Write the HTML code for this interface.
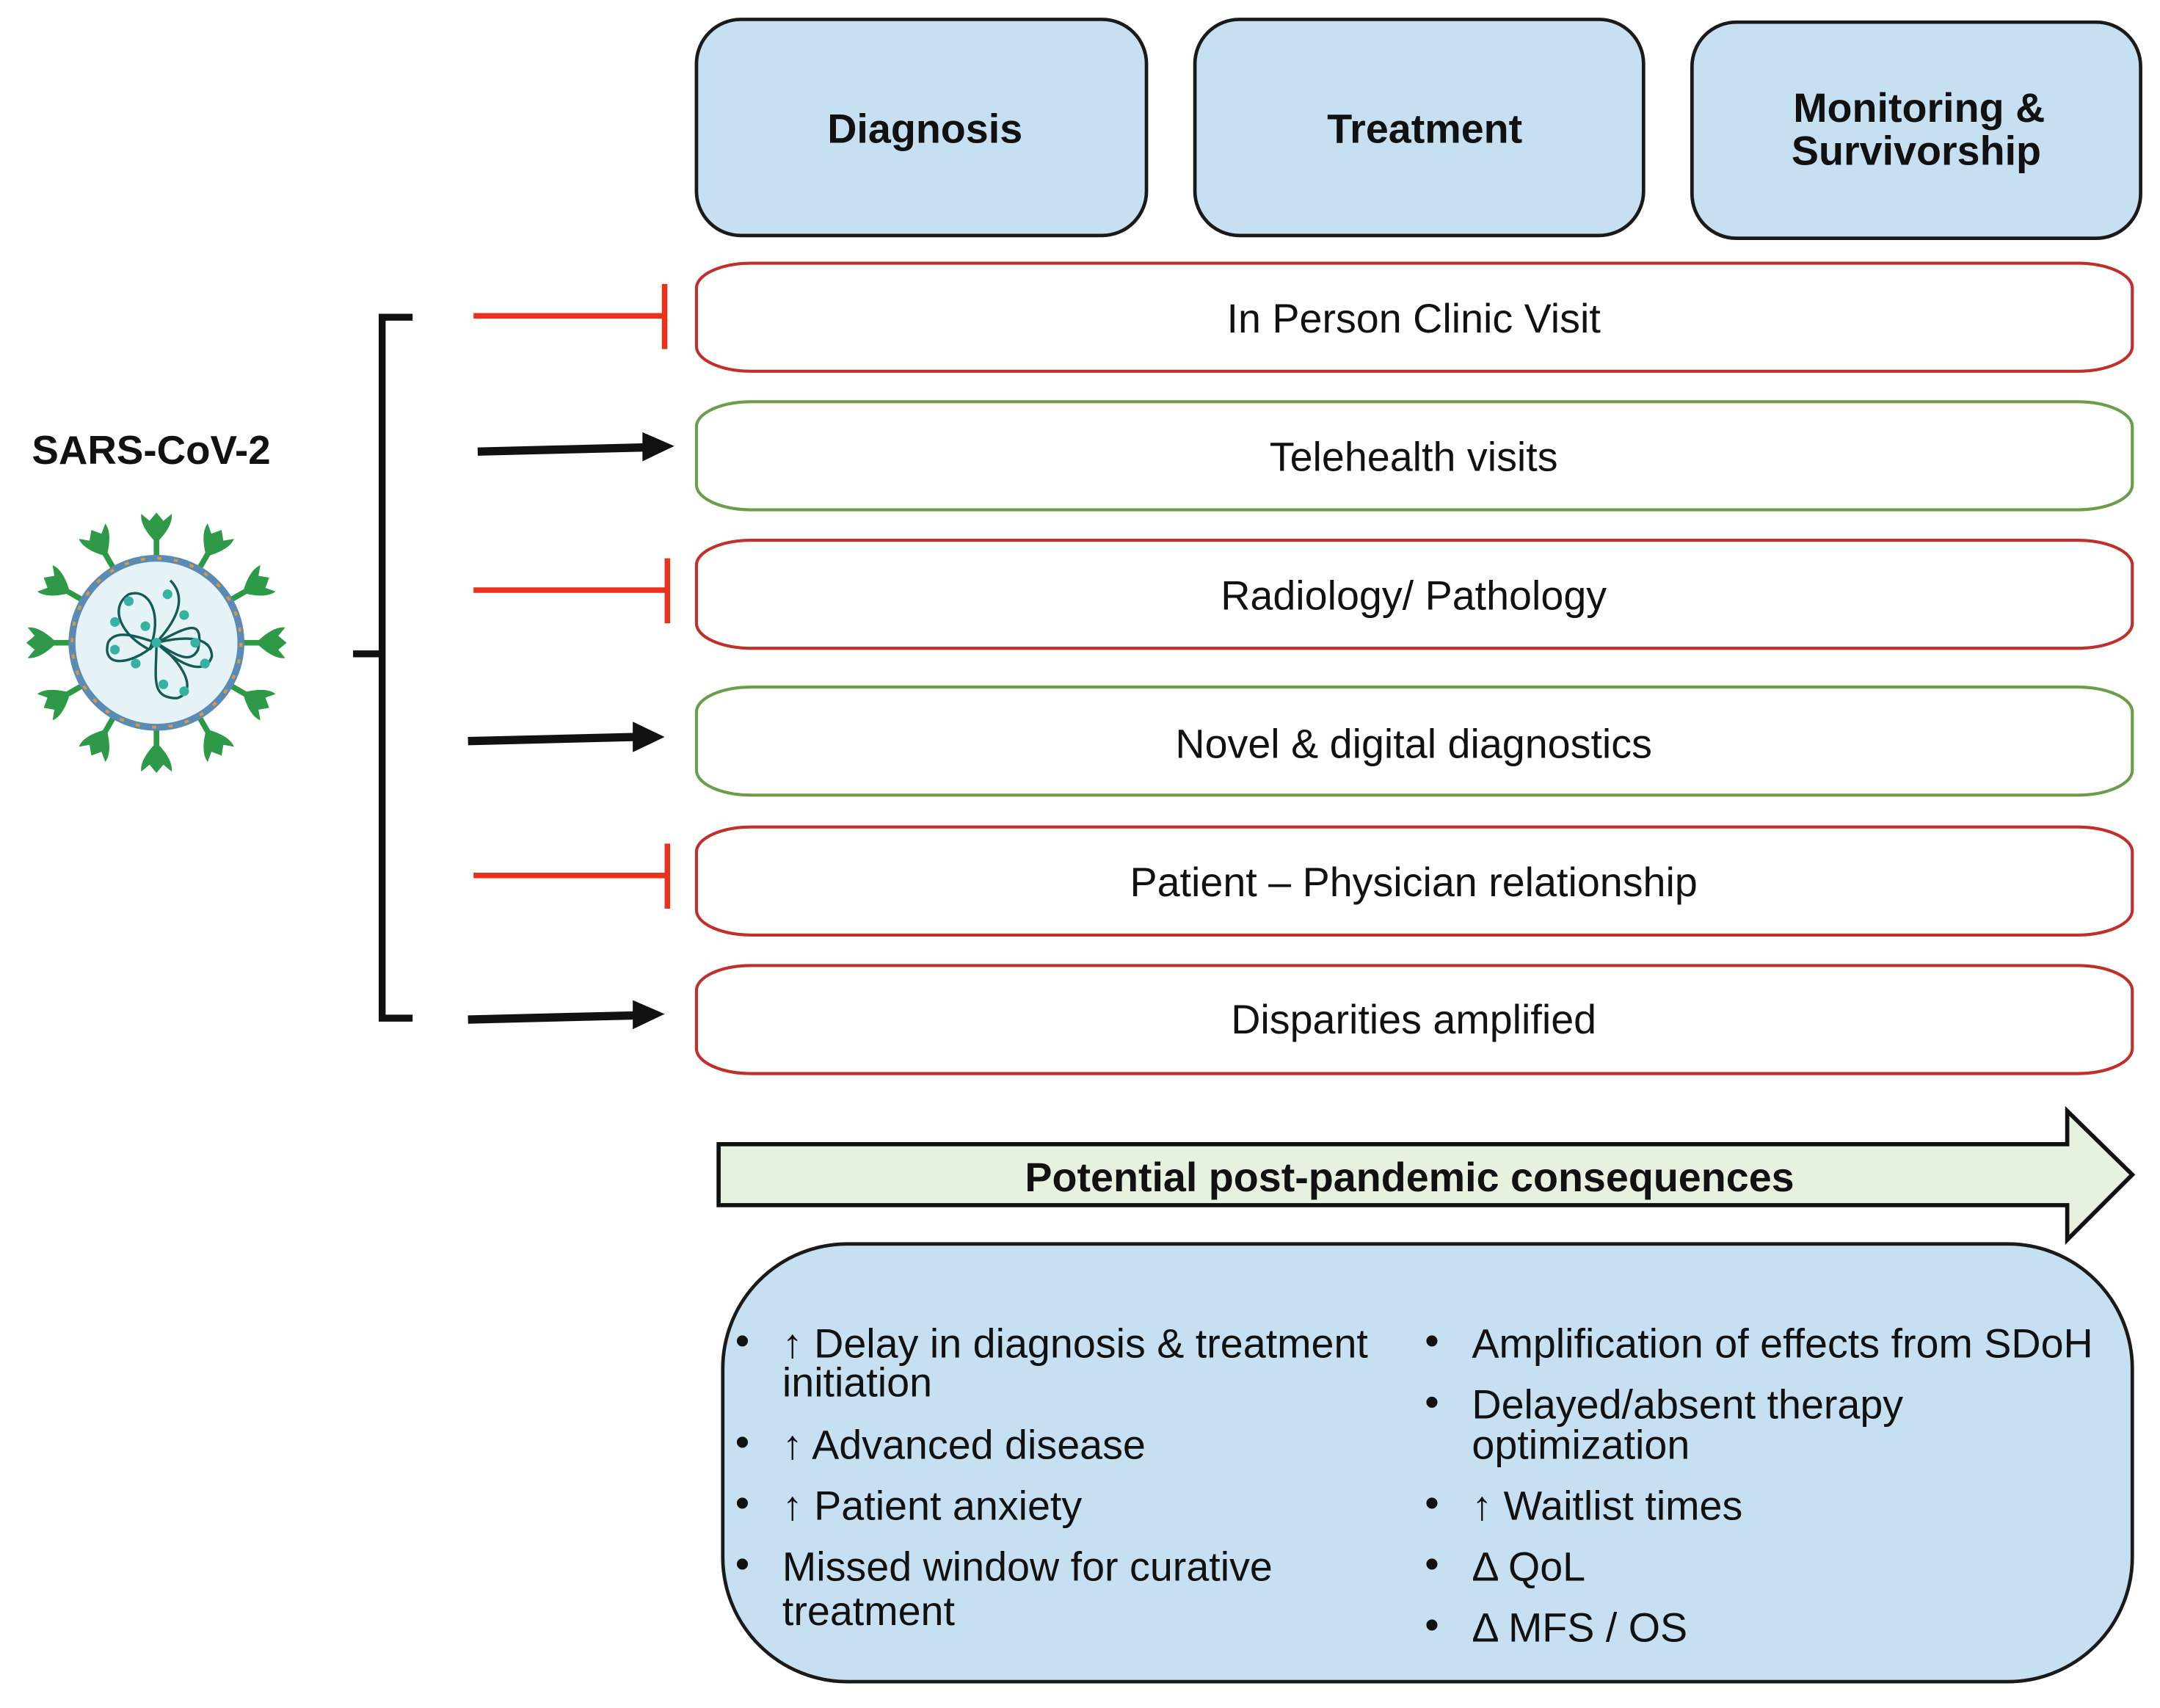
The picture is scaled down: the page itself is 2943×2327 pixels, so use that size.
<!DOCTYPE html>
<html><head><meta charset="utf-8"><style>
html,body{margin:0;padding:0;background:#fff;}
svg{display:block;}
text{font-family:"Liberation Sans",sans-serif;}
</style></head><body>
<svg width="2943" height="2327" viewBox="0 0 1560 1233" preserveAspectRatio="none" xmlns="http://www.w3.org/2000/svg">
<rect width="1560" height="1233" fill="#fff"/>
<g fill="#c6dff1" stroke="#1a1a1a" stroke-width="2.5">
<rect x="503" y="14" width="325" height="156" rx="32"/>
<rect x="863" y="14" width="324" height="156" rx="32"/>
<rect x="1222" y="16" width="324" height="156" rx="32"/>
</g>
<g font-weight="bold" font-size="29.5" text-anchor="middle" fill="#111">
<text x="668" y="103">Diagnosis</text>
<text x="1029" y="103">Treatment</text>
<text x="1386" y="88">Monitoring &amp;</text>
<text x="1384" y="119">Survivorship</text>
</g>
<g fill="#fff" stroke-width="2.2">
<rect x="503" y="190" width="1037" height="78" rx="40" ry="18" stroke="#c0302a"/>
<rect x="503" y="290" width="1037" height="78" rx="40" ry="18" stroke="#6d9c4c"/>
<rect x="503" y="390" width="1037" height="78" rx="40" ry="18" stroke="#c0302a"/>
<rect x="503" y="496" width="1037" height="78" rx="40" ry="18" stroke="#6d9c4c"/>
<rect x="503" y="597" width="1037" height="78" rx="40" ry="18" stroke="#c0302a"/>
<rect x="503" y="697" width="1037" height="78" rx="40" ry="18" stroke="#c0302a"/>
</g>
<g font-size="29.5" text-anchor="middle" fill="#111">
<text x="1021" y="240">In Person Clinic Visit</text>
<text x="1021" y="340">Telehealth visits</text>
<text x="1021" y="440">Radiology/ Pathology</text>
<text x="1021" y="547">Novel &amp; digital diagnostics</text>
<text x="1021" y="647">Patient – Physician relationship</text>
<text x="1021" y="746">Disparities amplified</text>
</g>
<path d="M298 229 H276 V735 H298 M276 472 H255" fill="none" stroke="#111" stroke-width="5"/>
<g stroke="#e8321e" stroke-width="4" fill="none">
<path d="M342 228 H480 M480 205 V252"/>
<path d="M342 426 H482 M482 403 V450"/>
<path d="M342 632 H482 M482 609 V656"/>
</g>
<g stroke="#111" stroke-width="6">
<line x1="345" y1="326" x2="466" y2="323"/>
<line x1="338" y1="535" x2="460" y2="532"/>
<line x1="338" y1="736" x2="460" y2="733"/>
</g>
<g fill="#111">
<polygon points="464,312 487,322 464,333"/>
<polygon points="457,521 480,532 457,543"/>
<polygon points="457,722 480,732 457,743"/>
</g>
<text x="23" y="335" font-size="29" font-weight="bold" fill="#111">SARS-CoV-2</text>
<g transform="translate(113,464)">
<g id="sp">
<line x1="0" y1="-60" x2="0" y2="-78" stroke="#2a9a44" stroke-width="4"/>
<path d="M0 -72 C-6 -78 -12 -86 -11 -93 L-5 -88 L0 -94 L5 -88 L11 -93 C12 -86 6 -78 0 -72 Z" fill="#2e9a48"/>
</g>
<use href="#sp" transform="rotate(30)"/><use href="#sp" transform="rotate(60)"/><use href="#sp" transform="rotate(90)"/>
<use href="#sp" transform="rotate(120)"/><use href="#sp" transform="rotate(150)"/><use href="#sp" transform="rotate(180)"/>
<use href="#sp" transform="rotate(210)"/><use href="#sp" transform="rotate(240)"/><use href="#sp" transform="rotate(270)"/>
<use href="#sp" transform="rotate(300)"/><use href="#sp" transform="rotate(330)"/>
<circle r="61" fill="#e5f3f6" stroke="#5b8bb5" stroke-width="5"/>
<circle r="61" fill="none" stroke="#d99a3a" stroke-width="2" stroke-dasharray="3 9"/>
<g fill="none" stroke="#145a55" stroke-width="1.8">
<path d="M-5 5 C-25 -5 -35 -25 -20 -35 C-5 -40 5 -20 -5 5"/>
<path d="M-5 5 C10 -10 25 -30 10 -45"/>
<path d="M0 0 C20 -10 35 -20 30 5 C25 15 15 10 0 0"/>
<path d="M0 0 C-15 15 -40 20 -35 0 C-30 -10 -15 -5 0 0"/>
<path d="M0 0 C0 25 -5 40 15 40 C30 35 20 15 0 0"/>
<path d="M0 0 C15 15 35 25 40 10 C40 -5 20 -5 0 0"/>
</g>
<g fill="#36b3a0">
<circle cx="-20" cy="-30" r="3.5"/><circle cx="-30" cy="-15" r="3.5"/><circle cx="8" cy="-35" r="3.5"/><circle cx="20" cy="-20" r="3.5"/>
<circle cx="28" cy="0" r="3.5"/><circle cx="-30" cy="5" r="3.5"/><circle cx="-15" cy="15" r="3.5"/><circle cx="5" cy="30" r="3.5"/>
<circle cx="20" cy="35" r="3.5"/><circle cx="35" cy="15" r="3.5"/><circle cx="0" cy="0" r="3.5"/><circle cx="-8" cy="-12" r="3.5"/>
</g>
</g>
<path d="M519 826 H1493 V802 L1540 848 L1493 895 V870 H519 Z" fill="#e6f2df" stroke="#111" stroke-width="3"/>
<text x="1018" y="860" font-size="29.5" font-weight="bold" text-anchor="middle" fill="#111">Potential post-pandemic consequences</text>
<rect x="522" y="898" width="1018" height="316" rx="90" fill="#c6dff1" stroke="#1a1a1a" stroke-width="2.5"/>
<g font-size="29.5" fill="#111">
<text x="531" y="978">•</text><text x="565" y="980">↑ Delay in diagnosis &amp; treatment</text>
<text x="565" y="1008">initiation</text>
<text x="531" y="1051">•</text><text x="565" y="1053">↑ Advanced disease</text>
<text x="531" y="1095">•</text><text x="565" y="1097">↑ Patient anxiety</text>
<text x="531" y="1139">•</text><text x="565" y="1141">Missed window for curative</text>
<text x="565" y="1173">treatment</text>
<text x="1029" y="978">•</text><text x="1063" y="980">Amplification of effects from SDoH</text>
<text x="1029" y="1022">•</text><text x="1063" y="1024">Delayed/absent therapy</text>
<text x="1063" y="1053">optimization</text>
<text x="1029" y="1095">•</text><text x="1063" y="1097">↑ Waitlist times</text>
<text x="1029" y="1139">•</text><text x="1063" y="1141">Δ QoL</text>
<text x="1029" y="1183">•</text><text x="1063" y="1185">Δ MFS / OS</text>
</g>
</svg>
</body></html>
